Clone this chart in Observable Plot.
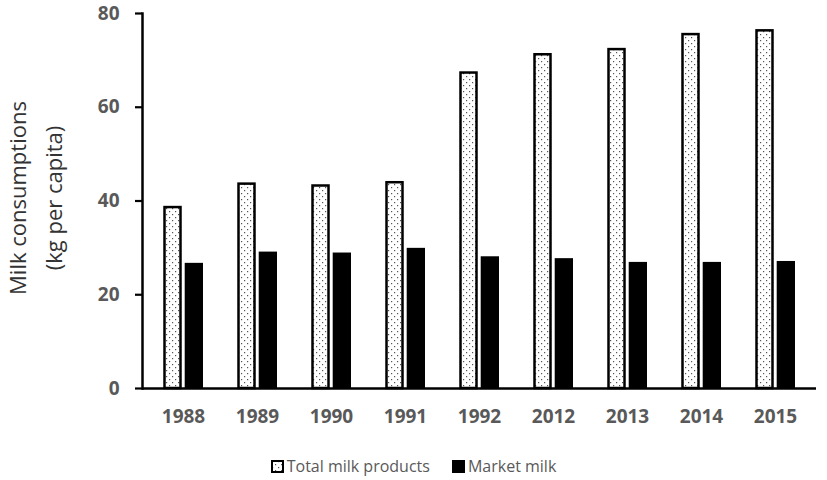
<!DOCTYPE html>
<html>
<head>
<meta charset="utf-8">
<script src="https://cdn.jsdelivr.net/npm/d3@7"></script>
<script src="https://cdn.jsdelivr.net/npm/@observablehq/plot@0.6"></script>
<style>
  body { margin: 0; background: #fff; font-family: "Open Sans", sans-serif; }
  #wrap { position: relative; width: 827px; height: 480px; overflow: hidden; }
  #legend { position: absolute; left: 0; top: 455px; width: 827px; display: flex; justify-content: center; gap: 22px; font-size: 16px; color: #595959; line-height: 22px; }
  .item { display: flex; align-items: center; gap: 3px; }
  .sw { width: 13px; height: 13px; display: block; }
</style>
</head>
<body>
<svg width="0" height="0" style="position:absolute">
  <defs>
    <pattern id="dots" width="6" height="6" patternUnits="userSpaceOnUse">
      <rect width="6" height="6" fill="white"></rect>
      <rect x="1" y="1" width="1.2" height="1.2" fill="#555"></rect>
      <rect x="4" y="4" width="1.2" height="1.2" fill="#555"></rect>
    </pattern>
  </defs>
</svg>
<div id="wrap">
  <div id="chart"></div>
  <div id="legend"></div>
</div>
<script>
const years = ["1988", "1989", "1990", "1991", "1992", "2012", "2013", "2014", "2015"];
const totalMilkProducts = [38.6, 43.6, 43.2, 43.9, 67.3, 71.2, 72.3, 75.5, 76.3];
const marketMilk = [26.7, 29.1, 28.9, 29.9, 28.1, 27.7, 26.9, 26.9, 27.1];
const yTicks = [0, 20, 40, 60, 80];
const seriesNames = ["Total milk products", "Market milk"];
const yTitle = "Milk consumptions\n(kg per capita)";

const data = years.map((year, i) => ({year, total: totalMilkProducts[i], market: marketMilk[i]}));

const chart = Plot.plot({
  width: 827,
  height: 440,
  marginLeft: 142,
  marginRight: 11,
  marginTop: 13,
  marginBottom: 52,
  style: {fontFamily: "Open Sans, sans-serif", background: "white"},
  x: {domain: years, paddingInner: 0.46, paddingOuter: 0.23},
  y: {domain: [0, 80]},
  marks: [
    Plot.barY(data, {x: "year", y: "total", fill: "url(#dots)", stroke: "black", strokeWidth: 2.5, insetLeft: 1.5, insetRight: 22.5}),
    Plot.barY(data, {x: "year", y: "market", fill: "black", insetLeft: 21.7, insetRight: 0}),
    Plot.ruleY([0], {stroke: "black", strokeWidth: 2.5}),
    Plot.frame({anchor: "left", stroke: "black", strokeWidth: 2.5}),
    Plot.axisY({ticks: yTicks, tickSize: 7, tickPadding: 16, stroke: "black", strokeWidth: 2.2, fill: "#595959", fontSize: 19, fontWeight: "bold", label: null}),
    Plot.axisX({tickSize: 0, tickPadding: 21, fill: "#595959", fontSize: 19, fontWeight: "bold", label: null}),
    Plot.text([yTitle], {text: d => d, frameAnchor: "left", textAnchor: "middle", rotate: -90, dx: -110, dy: -3, fontSize: 22, fill: "#333333", lineHeight: 1.66})
  ]
});
document.getElementById("chart").appendChild(chart);

const legend = document.getElementById("legend");
legend.innerHTML =
  `<div class="item"><svg class="sw" viewBox="0 0 13 13"><rect x="1" y="1" width="11" height="11" fill="url(#dots)" stroke="black" stroke-width="2"></rect></svg><span>${seriesNames[0]}</span></div>` +
  `<div class="item"><svg class="sw" viewBox="0 0 13 13"><rect x="0" y="0" width="13" height="13" fill="black"></rect></svg><span>${seriesNames[1]}</span></div>`;
</script>
</body>
</html>
